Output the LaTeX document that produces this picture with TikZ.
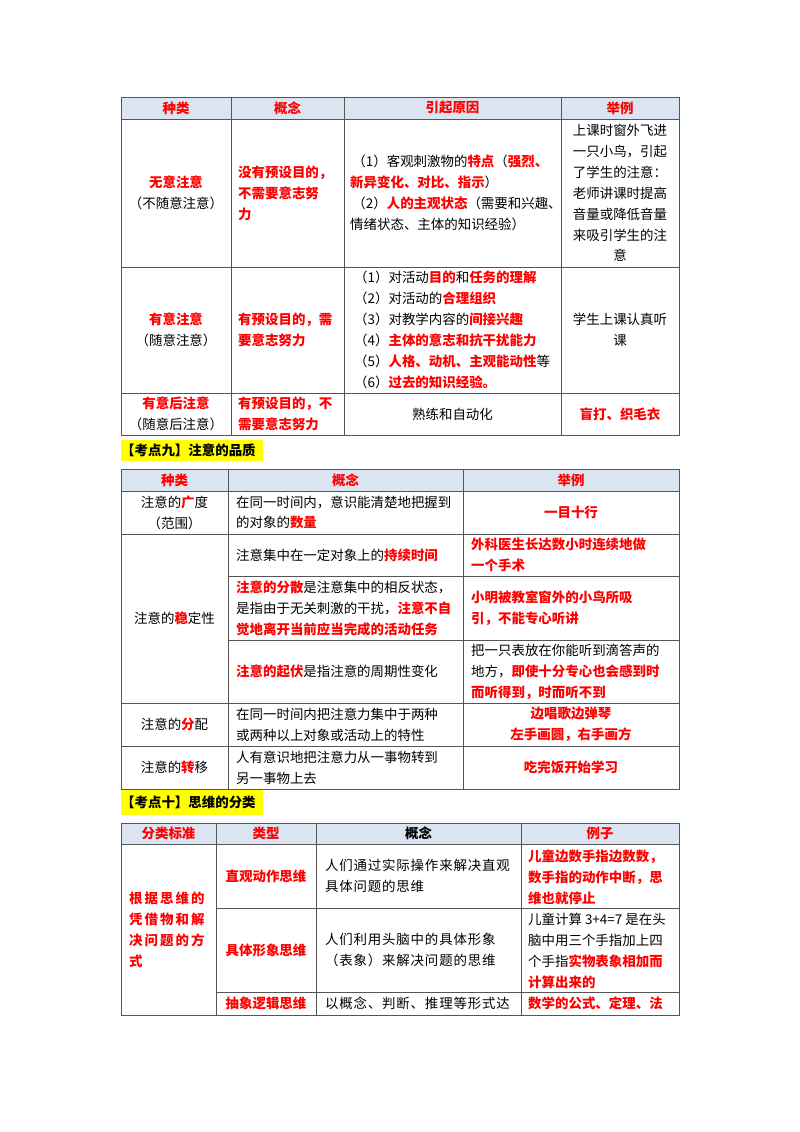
\documentclass[tikz,border=0pt]{standalone}
\usepackage{fontspec}
\setmainfont{Noto Sans CJK SC}
\usepackage{tikz}
\usetikzlibrary{positioning, calc}
\XeTeXlinebreaklocale "zh"
\definecolor{headblue}{HTML}{DBE5F1}
\definecolor{gridgray}{HTML}{555555}
\definecolor{hlyellow}{HTML}{FFFF00}
\newcommand{\kw}[1]{\textcolor{red}{\bfseries #1}}
\tikzset{
    cell/.style={
        inner sep=0pt,
        align=center,
        font=\fontsize{13.5}{21}\selectfont
    },
    lcell/.style={
        cell,
        anchor=west,
        align=left
    },
    head/.style={
        cell,
        text=red,
        font=\fontsize{13.5}{21}\selectfont\bfseries
    },
    grid/.style={
        draw=gridgray,
        line width=0.8pt
    },
    headfill/.style={
        fill=headblue
    },
    tagfill/.style={
        fill=hlyellow
    }
}

\begin{document}
\begin{tikzpicture}[x=1bp, y=-1bp]
        \useasboundingbox (0,0) rectangle (800,1132);

        % Table 1 (Attention types)
        \fill [headfill] (121,97) rectangle (679,119);
        \draw [grid] (121,97) rectangle (679,435);
        \foreach \y in {119, 267, 393} \draw [grid] (121,\y) -- (679,\y);
        \foreach \x in {231, 344, 561} \draw [grid] (\x,97) -- (\x,435);

        \node [head] (t1kind) at (176,108) {种类};
        \node [head] (t1idea) at (287.5,108) {概念};
        \node [head] (t1cause) at (452.5,108) {引起原因};
        \node [head] (t1case) at (620,108) {举例};

        % Row: involuntary
        \node [cell] (invkind) at (176,193) {\kw{无意注意}\\（不随意注意）};
        \node [lcell] (invidea) at (238,193) {\kw{没有预设目的，}\\\kw{不需要意志努}\\\kw{力}};
        \node [lcell] (invcause) at (350,193) {\,（1）客观刺激物的\kw{特点}（\kw{强烈、}\\\kw{新异变化、对比、指示}）\\\,（2）\kw{人的主观状态}（需要和兴趣、\\情绪状态、主体的知识经验）};
        \node [cell] (invcase) at (620,193) {上课时窗外飞进\\一只小鸟，引起\\了学生的注意：\\老师讲课时提高\\音量或降低音量\\来吸引学生的注\\意};

        % Row: voluntary
        \node [cell] (volkind) at (176,330) {\kw{有意注意}\\（随意注意）};
        \node [lcell] (volidea) at (238,330) {\kw{有预设目的，需}\\\kw{要意志努力}};
        \node [lcell] (volcause) at (354,330) {（1）对活动\kw{目的}和\kw{任务的理解}\\（2）对活动的\kw{合理组织}\\（3）对教学内容的\kw{间接兴趣}\\（4）\kw{主体的意志和抗干扰能力}\\（5）\kw{人格、动机、主观能动性}等\\（6）\kw{过去的知识经验。}};
        \node [cell] (volcase) at (620,330) {学生上课认真听\\课};

        % Row: post-voluntary
        \node [cell] (postkind) at (176,414) {\kw{有意后注意}\\（随意后注意）};
        \node [lcell] (postidea) at (238,414) {\kw{有预设目的，不}\\\kw{需要意志努力}};
        \node [cell] (postcause) at (452.5,414) {熟练和自动化};
        \node [cell] (postcase) at (620,414) {\kw{盲打、织毛衣}};

        % Point nine title
        \fill [tagfill] (121,440) rectangle (263,461);
        \node [cell, anchor=west, font=\fontsize{13.5}{21}\selectfont\bfseries] (nine) at (121,450.5) {【考点九】注意的品质};

        % Table 2 (Attention qualities)
        \fill [headfill] (121,469) rectangle (679,491);
        \draw [grid] (121,469) rectangle (679,789);
        \foreach \y in {491, 534, 703, 746} \draw [grid] (121,\y) -- (679,\y);
        \foreach \y in {576, 640} \draw [grid] (228,\y) -- (679,\y);
        \foreach \x in {228, 463} \draw [grid] (\x,469) -- (\x,789);

        \node [head] (t2kind) at (174.5,480) {种类};
        \node [head] (t2idea) at (345.5,480) {概念};
        \node [head] (t2case) at (571,480) {举例};

        \node [cell] (span) at (174.5,512.5) {注意的\kw{广}度\\（范围）};
        \node [lcell] (spanidea) at (236,512.5) {在同一时间内，意识能清楚地把握到\\的对象的\kw{数量}};
        \node [cell] (spancase) at (571,512.5) {\kw{一目十行}};

        \node [cell] (stab) at (174.5,618.5) {注意的\kw{稳}定性};
        \node [lcell] (stabidea) at (236,555) {注意集中在一定对象上的\kw{持续时间}};
        \node [lcell] (stabcase) at (471,555) {\kw{外科医生长达数小时连续地做}\\\kw{一个手术}};
        \node [lcell] (distidea) at (236,608) {\kw{注意的分散}是注意集中的相反状态，\\是指由于无关刺激的干扰，\kw{注意不自}\\\kw{觉地离开当前应当完成的活动任务}};
        \node [lcell] (distcase) at (471,608) {\kw{小明被教室窗外的小鸟所吸}\\\kw{引，不能专心听讲}};
        \node [lcell] (flucidea) at (236,671.5) {\kw{注意的起伏}是指注意的周期性变化};
        \node [lcell] (fluccase) at (471,671.5) {把一只表放在你能听到滴答声的\\地方，\kw{即使十分专心也会感到时}\\\kw{而听得到，时而听不到}};

        \node [cell] (alloc) at (174.5,724.5) {注意的\kw{分}配};
        \node [lcell] (allocidea) at (236,724.5) {在同一时间内把注意力集中于两种\\或两种以上对象或活动上的特性};
        \node [cell] (alloccase) at (571,724.5) {\kw{边唱歌边弹琴}\\\kw{左手画圆，右手画方}};

        \node [cell] (shift) at (174.5,767.5) {注意的\kw{转}移};
        \node [lcell] (shiftidea) at (236,767.5) {人有意识地把注意力从一事物转到\\另一事物上去};
        \node [cell] (shiftcase) at (571,767.5) {\kw{吃完饭开始学习}};

        % Point ten title
        \fill [tagfill] (121,790) rectangle (263,815);
        \node [cell, anchor=west, font=\fontsize{13.5}{21}\selectfont\bfseries] (ten) at (121,802.5) {【考点十】思维的分类};

        % Table 3 (Thinking types)
        \fill [headfill] (121,823) rectangle (679,844);
        \draw [grid] (121,823) rectangle (679,1015);
        \draw [grid] (121,844) -- (679,844);
        \foreach \y in {908, 992} \draw [grid] (216,\y) -- (679,\y);
        \foreach \x in {216, 316, 521} \draw [grid] (\x,823) -- (\x,1015);

        \node [head] (t3basis) at (168.5,833.5) {分类标准};
        \node [head] (t3kind) at (266,833.5) {类型};
        \node [head, text=black] (t3idea) at (418.5,833.5) {概念};
        \node [head] (t3case) at (600,833.5) {例子};

        \node [lcell, font=\fontsize{13.5}{21}\selectfont\addfontfeature{LetterSpace=15}] (basis) at (129,930) {\kw{根据思维的}\\\kw{凭借物和解}\\\kw{决问题的方}\\\kw{式}};

        \node [cell] (action) at (266,876) {\kw{直观动作思维}};
        \node [lcell, font=\fontsize{13.5}{21}\selectfont\addfontfeature{LetterSpace=6}] (actionidea) at (325,876) {人们通过实际操作来解决直观\\具体问题的思维};
        \node [lcell] (actioncase) at (528,877) {\kw{儿童边数手指边数数，}\\\kw{数手指的动作中断，思}\\\kw{维也就停止}};

        \node [cell] (image) at (266,950) {\kw{具体形象思维}};
        \node [lcell, font=\fontsize{13.5}{21}\selectfont\addfontfeature{LetterSpace=6}] (imageidea) at (325,950) {人们利用头脑中的具体形象\\（表象）来解决问题的思维};
        \node [lcell] (imagecase) at (528,951) {儿童计算 3+4=7 是在头\\脑中用三个手指加上四\\个手指\kw{实物表象相加而}\\\kw{计算出来的}};

        \node [cell] (logic) at (266,1003.5) {\kw{抽象逻辑思维}};
        \node [lcell, font=\fontsize{13.5}{21}\selectfont\addfontfeature{LetterSpace=6}] (logicidea) at (325,1003.5) {以概念、判断、推理等形式达};
        \node [lcell] (logiccase) at (528,1003.5) {\kw{数学的公式、定理、法}};
\end{tikzpicture}
\end{document}
